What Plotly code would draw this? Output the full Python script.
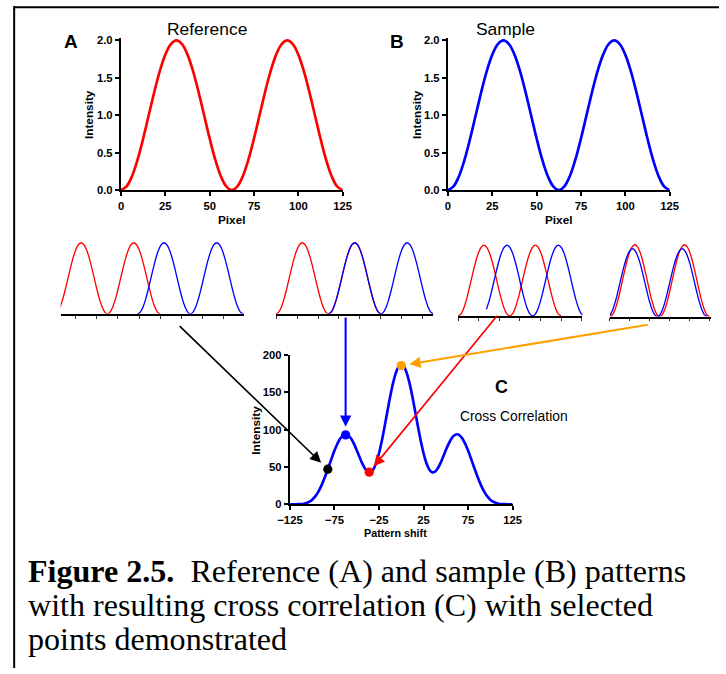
import plotly.graph_objects as go

# The photographed area is the page from its origin, about 744x690 page pixels
# shrunk to 726x674, and the page has an 8 px body margin.  Every position
# below is written in picture pixels and converted to figure pixels.
KX, KY = 726 / 744, 674 / 690
OFF = 8
XSHIFT = -2.5
W, H = 728, 674
S = 1 / KX  # size factor for fonts, widths, offsets

# ---------------- data ----------------
pixel = [0, 3.125, 6.25, 9.375, 12.5, 15.625, 18.75, 21.875, 25, 28.125, 31.25,
         34.375, 37.5, 40.625, 43.75, 46.875, 50, 53.125, 56.25, 59.375, 62.5,
         65.625, 68.75, 71.875, 75, 78.125, 81.25, 84.375, 87.5, 90.625, 93.75,
         96.875, 100, 103.125, 106.25, 109.375, 112.5, 115.625, 118.75, 121.875, 125]
reference_intensity = [0.00, 0.05, 0.19, 0.41, 0.69, 1.00, 1.31, 1.59, 1.81, 1.95, 2.00,
                       1.95, 1.81, 1.59, 1.31, 1.00, 0.69, 0.41, 0.19, 0.05, 0.00,
                       0.05, 0.19, 0.41, 0.69, 1.00, 1.31, 1.59, 1.81, 1.95, 2.00,
                       1.95, 1.81, 1.59, 1.31, 1.00, 0.69, 0.41, 0.19, 0.05, 0.00]
sample_intensity = [0.00, 0.05, 0.19, 0.41, 0.69, 1.00, 1.31, 1.59, 1.81, 1.95, 2.00,
                    1.95, 1.81, 1.59, 1.31, 1.00, 0.69, 0.41, 0.19, 0.05, 0.00,
                    0.05, 0.19, 0.41, 0.69, 1.00, 1.31, 1.59, 1.81, 1.95, 2.00,
                    1.95, 1.81, 1.59, 1.31, 1.00, 0.69, 0.41, 0.19, 0.05, 0.00]

pattern_shift = [-125, -121.875, -118.75, -115.625, -112.5, -109.375, -106.25, -103.125,
                 -100, -96.875, -93.75, -90.625, -87.5, -84.375, -81.25, -78.125,
                 -75, -71.875, -68.75, -65.625, -62.5, -59.375, -56.25, -53.125,
                 -50, -46.875, -43.75, -40.625, -37.5, -34.375, -31.25, -28.125,
                 -25, -21.875, -18.75, -15.625, -12.5, -9.375, -6.25, -3.125, 0,
                 3.125, 6.25, 9.375, 12.5, 15.625, 18.75, 21.875, 25,
                 28.125, 31.25, 34.375, 37.5, 40.625, 43.75, 46.875, 50,
                 53.125, 56.25, 59.375, 62.5, 65.625, 68.75, 71.875, 75,
                 78.125, 81.25, 84.375, 87.5, 90.625, 93.75, 96.875, 100,
                 103.125, 106.25, 109.375, 112.5, 115.625, 118.75, 121.875, 125]
cross_correlation = [0.0, 0.0, 0.0, 0.1, 0.2, 0.7, 1.7, 3.4,
                     6.1, 10.1, 15.6, 22.6, 31.1, 40.8, 51.2, 61.8,
                     71.9, 80.8, 87.8, 92.2, 93.8, 92.2, 87.8, 80.9,
                     72.4, 63.2, 54.5, 47.5, 43.3, 42.9, 46.9, 55.4,
                     68.3, 84.9, 104.0, 124.3, 144.1, 161.7, 175.5, 184.4, 187.5,
                     184.4, 175.5, 161.7, 144.1, 124.3, 104.0, 84.9, 68.3,
                     55.4, 46.9, 42.9, 43.3, 47.5, 54.5, 63.2, 72.4,
                     80.9, 87.8, 92.2, 93.8, 92.2, 87.8, 80.8, 71.9,
                     61.8, 51.2, 40.8, 31.1, 22.6, 15.6, 10.1, 6.1,
                     3.4, 1.7, 0.7, 0.2, 0.1, 0.0, 0.0, 0.0]

point_shift = [-82.5, -62.5, -36, 0]
point_corr = [47, 93, 43, 186]
point_colors = ["#000000", "#0000FF", "#FF0000", "#FFA000"]

# shift of the sample against the reference in the four small panels
mini_shift = [98.4, 62.5, 28.0, -3.0]

x_ticks = [0, 25, 50, 75, 100, 125]
y_ticks = [0.0, 0.5, 1.0, 1.5, 2.0]
c_x_ticks = [-125, -75, -25, 25, 75, 125]
c_y_ticks = [0, 50, 100, 150, 200]

RED = "#FF0000"
BLUE = "#0000FF"
SANS = "Liberation Sans"
SERIF = "Liberation Serif"


def fx(px):
    g = (px + XSHIFT) / KX - OFF
    return min(max(g / W, 0.0), 1.0)


def fy(py):
    g = py / KY - OFF
    return min(max(1 - g / H, 0.0), 1.0)


def s(v):
    return v * S


fig = go.Figure()

tickfont = dict(family=SANS, size=s(11), color="black", weight="bold")


def main_axes(x0, x1, ybase, ytop, xr, yr, xt, yt, fmt):
    common = dict(showline=True, linewidth=s(2), linecolor="black", ticks="outside",
                  ticklen=s(4), tickwidth=s(2), tickcolor="black", showgrid=False,
                  zeroline=False, tickfont=tickfont, fixedrange=True)
    xa = dict(domain=[fx(x0), fx(x1)], range=xr, tickvals=xt, **common)
    ya = dict(domain=[fy(ybase), fy(ytop)], range=yr, tickvals=yt, tickformat=fmt, **common)
    return xa, ya


layout = {}
# panel A
xa, ya = main_axes(119, 342, 191, 40, [0, 125], [0, 2.027], x_ticks, y_ticks, ".1f")
xa["anchor"] = "y"; ya["anchor"] = "x"
layout["xaxis"], layout["yaxis"] = xa, ya
# panel B
xa, ya = main_axes(448, 671, 191, 40, [0, 125], [0, 2.027], x_ticks, y_ticks, ".1f")
xa["anchor"] = "y2"; ya["anchor"] = "x2"
layout["xaxis2"], layout["yaxis2"] = xa, ya
# panel C
xa, ya = main_axes(289, 513, 503.3, 355, [-125, 125], [0, 200], c_x_ticks, c_y_ticks, "d")
xa["anchor"] = "y3"; ya["anchor"] = "x3"
layout["xaxis3"], layout["yaxis3"] = xa, ya

fig.add_trace(go.Scatter(x=pixel, y=reference_intensity, mode="lines", xaxis="x", yaxis="y",
                         line=dict(color=RED, width=s(2.6), shape="spline"), hoverinfo="skip"))
fig.add_trace(go.Scatter(x=pixel, y=sample_intensity, mode="lines", xaxis="x2", yaxis="y2",
                         line=dict(color=BLUE, width=s(2.6), shape="spline"), hoverinfo="skip"))
fig.add_trace(go.Scatter(x=pattern_shift, y=cross_correlation, mode="lines", xaxis="x3", yaxis="y3",
                         line=dict(color=BLUE, width=s(2.6), shape="spline"), hoverinfo="skip"))
fig.add_trace(go.Scatter(x=point_shift, y=point_corr, mode="markers", xaxis="x3", yaxis="y3",
                         marker=dict(color=point_colors, size=s(9)), cliponaxis=False, hoverinfo="skip"))

# small illustration panels
mini_px = [(58.3, 242.7, 314.0, 70.7), (275.0, 433.3, 314.0, 70.7),
           (458.3, 583.3, 316.0, 70.3), (611.0, 712.3, 316.7, 71.4)]
mini_xrange = [[7, 224.5], [0, 187.5], [0, 151], [0, 126.6]]
sample_start = [0, 0, 2, 0]
for i in range(4):
    n = i + 4
    x0, x1, base, pk = mini_px[i]
    top = base - pk * 2.05 / 2.0
    layout[f"xaxis{n}"] = dict(domain=[fx(x0), fx(x1)], range=mini_xrange[i], anchor=f"y{n}",
                               showline=True, linewidth=s(1.5), linecolor="black", ticks="outside",
                               ticklen=s(3), tickwidth=s(1), tickcolor="#333333", tick0=0, dtick=25,
                               showticklabels=False, showgrid=False, zeroline=False, fixedrange=True)
    layout[f"yaxis{n}"] = dict(domain=[fy(base), fy(top)], range=[0, 2.05], anchor=f"x{n}",
                               visible=False, fixedrange=True)
    red_tr = go.Scatter(x=pixel, y=reference_intensity, mode="lines", xaxis=f"x{n}", yaxis=f"y{n}",
                        line=dict(color=RED, width=s(1.3), shape="spline"), hoverinfo="skip")
    s0 = sample_start[i]
    bx = [p + mini_shift[i] for p in pixel[s0:]]
    by_axis = f"y{n}" if i < 3 else "y8"
    blue_tr = go.Scatter(x=bx, y=sample_intensity[s0:], mode="lines", xaxis=f"x{n}", yaxis=by_axis,
                         line=dict(color=BLUE, width=s(1.3), shape="spline"), hoverinfo="skip")
    if i < 3:
        fig.add_trace(red_tr)
        fig.add_trace(blue_tr)
    else:
        fig.add_trace(blue_tr)
        fig.add_trace(red_tr)
# slightly lower blue curve in the last panel
layout["yaxis8"] = dict(overlaying="y7", anchor="x7", range=[0, 2.17], visible=False, fixedrange=True)

annotations = []


def label(text, px, py, size, bold=False, angle=0, family=SANS, xanchor="center"):
    annotations.append(dict(text=text, x=fx(px), y=fy(py), xref="paper", yref="paper",
                            showarrow=False, textangle=angle, xanchor=xanchor, yanchor="middle",
                            font=dict(family=family, size=s(size), color="black",
                                      weight="bold" if bold else "normal")))


label("A", 69, 43, 18.5, bold=True)
label("Reference", 206, 31, 17)
label("Intensity", 87, 116, 11.5, bold=True, angle=-90)
label("Pixel", 230.5, 220, 11.5, bold=True)

label("B", 397, 43, 18.5, bold=True)
label("Sample", 506, 31, 17)
label("Intensity", 417, 116, 11.5, bold=True, angle=-90)
label("Pixel", 559.5, 220, 11.5, bold=True)

label("C", 502, 387, 17.5, bold=True)
label("Cross Correlation", 514, 416, 13.5)
label("Intensity", 254, 430, 11.5, bold=True, angle=-90)
label("Pattern shift", 395, 532, 10.5, bold=True)

# caption
label("<b>Figure 2.5.</b>\u00a0 Reference (A) and sample (B) patterns", 23, 570, 31.3, family=SERIF, xanchor="left")
label("with resulting cross correlation (C) with selected", 23, 603.5, 31.3, family=SERIF, xanchor="left")
label("points demonstrated", 23, 637, 31.3, family=SERIF, xanchor="left")

# arrows pointing at the selected points
arrow_tail = [(-146, -141), (0, -116), (126, -154), (242, -40)]
arrow_width = [1.6, 2.0, 1.6, 2.0]
arrow_size = [1.35, 1.1, 1.35, 1.1]
arrow_standoff = [9, 8, 7, 8]
for i in range(4):
    annotations.append(dict(x=point_shift[i], y=point_corr[i], xref="x3", yref="y3",
                            ax=s(arrow_tail[i][0]), ay=s(arrow_tail[i][1]), text="", showarrow=True,
                            arrowhead=2, arrowsize=arrow_size[i], arrowwidth=s(arrow_width[i]),
                            arrowcolor=point_colors[i], standoff=s(arrow_standoff[i])))

# frame lines (left and top) at the very edge of the drawable area
shapes = [
    dict(type="line", xref="paper", yref="paper", x0=1.2 / W, x1=1.2 / W, y0=0, y1=1,
         line=dict(color="black", width=2)),
    dict(type="line", xref="paper", yref="paper", x0=1.2 / W, x1=1, y0=1 - 1.2 / H, y1=1 - 1.2 / H,
         line=dict(color="black", width=2)),
]

fig.update_layout(**layout)
fig.update_layout(width=W, height=H, margin=dict(l=0, r=0, t=0, b=0), showlegend=False,
                  paper_bgcolor="white", plot_bgcolor="white",
                  annotations=annotations, shapes=shapes)

fig.write_html("out.html", config={"displayModeBar": False})
